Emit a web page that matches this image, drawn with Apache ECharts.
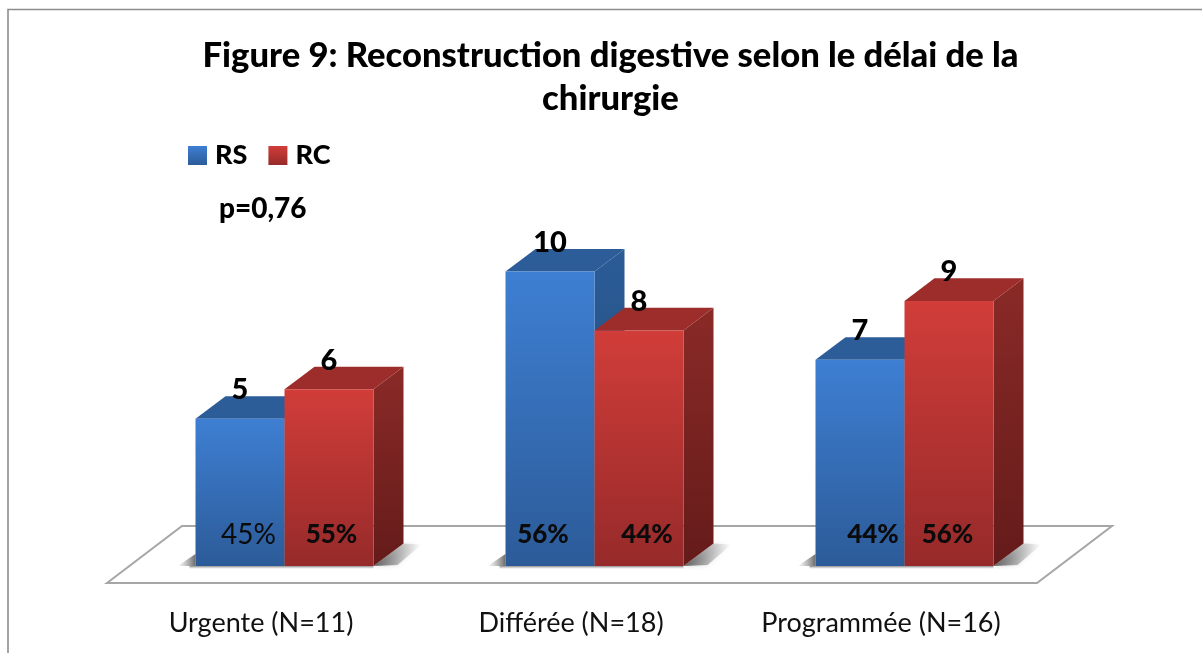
<!DOCTYPE html>
<html>
<head>
<meta charset="utf-8">
<style>html,body{margin:0;padding:0;background:#fff}#c{width:1202px;height:653px}</style>
<script src="https://cdn.jsdelivr.net/npm/echarts@6/dist/echarts.min.js"></script>
</head>
<body>
<div id="c"></div>
<script>
const categories = ['Urgente (N=11)', 'Différée (N=18)', 'Programmée (N=16)'];
const rsValues = [5, 10, 7];
const rcValues = [6, 8, 9];
const rsPercent = ['45%', '56%', '44%'];
const rcPercent = ['55%', '44%', '56%'];
const rsPercentBold = [false, true, true];
const rcPercentBold = [true, true, true];
const rsPercentNudge = [8.5, -7, 13];
const rcPercentNudge = [2.5, 8, -1.5];
const titleText = 'Figure 9: Reconstruction digestive selon le délai de la\nchirurgie';
const noteText = 'p=0,76';

const FONT = 'Lato';
const HEAVY = 900;
const BAR_W = 89, DX = 30, DY = 22.6;
const grad = (a, b) => new echarts.graphic.LinearGradient(0, 0, 0, 1, [{offset: 0, color: a}, {offset: 1, color: b}]);
const hgrad = (a, b) => new echarts.graphic.LinearGradient(0, 0, 1, 0, [{offset: 0, color: a}, {offset: 1, color: b}]);

function barRenderer(side, pal, pcts, bolds, nudges) {
  return function (params, api) {
    const i = api.value(0), v = api.value(1);
    const top = api.coord([i, v]), base = api.coord([i, 0]);
    const x0 = base[0] + (side < 0 ? -BAR_W : 0), x1 = x0 + BAR_W;
    const yt = top[1], yb = base[1];
    const cx = (x0 + x1) / 2;
    const poly = (points, fill) => ({type: 'polygon', shape: {points}, style: {fill}});
    return {
      type: 'group',
      children: [
        poly([[x1, yt], [x1 + DX, yt - DY], [x1 + DX, yb - DY], [x1, yb]], grad(pal.side0, pal.side1)),
        poly([[x0, yt], [x0 + DX, yt - DY], [x1 + DX, yt - DY], [x1, yt]], pal.top),
        {type: 'rect', shape: {x: x0, y: yt, width: BAR_W, height: yb - yt}, style: {fill: grad(pal.front0, pal.front1)}},
        {type: 'text', z2: 50, style: {x: cx, y: yt - 29, text: String(v), fill: '#000', align: 'center', verticalAlign: 'middle',
          font: HEAVY + ' 29px ' + FONT}},
        {type: 'text', z2: 50, style: {x: cx + nudges[i], y: yb - 31, text: pcts[i], fill: '#0b0b0b', align: 'center', verticalAlign: 'middle',
          font: (bolds[i] ? HEAVY + ' 26px ' : 'normal 28px ') + FONT}}
      ]
    };
  };
}

const blue = {front0: '#3e7fd3', front1: '#2c5b98', top: '#2c5d98', side0: '#2b5c96', side1: '#234a7c'};
const red = {front0: '#d13d39', front1: '#962a2a', top: '#9c2d2b', side0: '#8a2a27', side1: '#641b1a'};

const chart = echarts.init(document.getElementById('c'));
chart.setOption({
  animation: false,
  backgroundColor: '#fff',
  title: {
    text: titleText, left: 605.5, top: 29, textAlign: 'center',
    textStyle: {fontFamily: FONT, fontWeight: HEAVY, fontSize: 34.6, lineHeight: 43, color: '#000'}
  },
  legend: {
    left: 188, top: 142, padding: 0, itemWidth: 19, itemHeight: 19, itemGap: 21, icon: 'rect',
    selectedMode: false, data: ['RS', 'RC'],
    textStyle: {fontFamily: FONT, fontWeight: HEAVY, fontSize: 27, color: '#000', padding: [0, 0, 0, 3]}
  },
  grid: {left: 129.5, width: 930, top: 212.6, height: 353.4},
  xAxis: {
    type: 'category', data: categories,
    axisLine: {show: false}, axisTick: {show: false},
    axisLabel: {fontFamily: FONT, fontSize: 27, color: '#111', margin: 44, padding: [0, 47, 0, 0], interval: 0}
  },
  yAxis: {type: 'value', min: 0, max: 12, show: false},
  series: [
    {
      type: 'custom', name: 'floor', silent: true, z: 1,
      data: categories.map((c, i) => [i, 0]),
      encode: {x: 0, y: 1},
      renderItem(params, api) {
        const i = api.value(0);
        const b = api.coord([i, 0]);
        const kids = [];
        const cs = params.coordSys;
        const yb = b[1];
        if (i === 0) {
          kids.push({type: 'polygon', shape: {points: [
            [cs.x - 22.5, yb + 17], [cs.x + 52.5, yb - 40], [cs.x + cs.width + 52.5, yb - 40], [cs.x + cs.width - 22.5, yb + 17]
          ]}, style: {fill: '#fff', stroke: '#a6a6a6', lineWidth: 2}});
        }
        const xl = b[0] - BAR_W, xr = b[0] + BAR_W;
        kids.push({type: 'polygon', shape: {points: [
          [xr, yb], [xr + DX, yb - DY], [xr + DX + 18, yb - DY + 1], [xr + 24, yb - 1]
        ]}, style: {fill: hgrad('rgba(70,70,70,0.85)', 'rgba(120,120,120,0)'), shadowBlur: 5, shadowColor: 'rgba(110,110,110,0.45)'}});
        kids.push({type: 'polygon', shape: {points: [
          [xl - 18, yb], [xl, yb - 12], [xl, yb]
        ]}, style: {fill: hgrad('rgba(120,120,120,0)', 'rgba(70,70,70,0.8)')}});
        kids.push({type: 'rect', shape: {x: xl - 6, y: yb, width: 2 * BAR_W + 6, height: 3},
          style: {fill: grad('rgba(110,110,110,0.8)', 'rgba(170,170,170,0)')}});
        return {type: 'group', children: kids};
      }
    },
    {
      type: 'custom', name: 'RS', z: 2,
      itemStyle: {color: grad(blue.front0, blue.front1)},
      data: rsValues.map((v, i) => [i, v]), encode: {x: 0, y: 1},
      renderItem: barRenderer(-1, blue, rsPercent, rsPercentBold, rsPercentNudge)
    },
    {
      type: 'custom', name: 'RC', z: 3,
      itemStyle: {color: grad(red.front0, red.front1)},
      data: rcValues.map((v, i) => [i, v]), encode: {x: 0, y: 1},
      renderItem: barRenderer(1, red, rcPercent, rcPercentBold, rcPercentNudge)
    }
  ],
  graphic: [
    {type: 'polyline', z: 0, shape: {points: [[8, 653], [8, 9.5], [1202, 9.5]]}, style: {fill: null, stroke: '#8c8c8c', lineWidth: 1.6}},
    {type: 'text', z: 10, left: 219, top: 195, style: {text: noteText, fill: '#000', font: HEAVY + ' 28px ' + FONT}}
  ]
});
</script>
</body>
</html>
